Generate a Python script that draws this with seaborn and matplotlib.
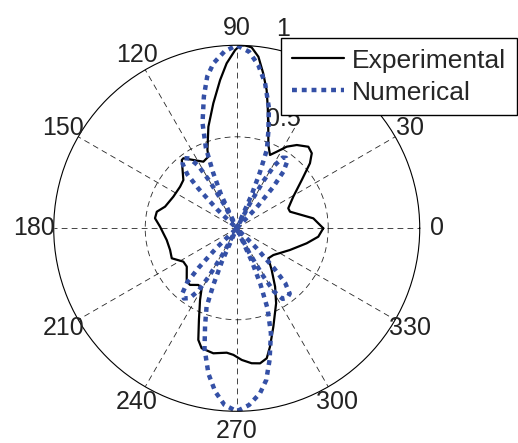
import numpy as np
import pandas as pd
import matplotlib
matplotlib.use("Agg")
import matplotlib.pyplot as plt
import seaborn as sns

# Experimental curve (angle in degrees, normalised amplitude)
exp_theta = [0, 7.4, 17.3, 21.2, 29.2, 36.6, 41.6, 45, 48.7, 54.2, 58.5, 62.4, 65.6,
             69.2, 72.2, 75.7, 77.8, 80.3, 82.8, 85.3, 87.4, 89, 90.5, 93.5, 96.4,
             100.6, 105.6, 110.5, 111.6, 116.6, 122.4, 127.3, 128.8, 137.9, 143.7,
             153.5, 163.2, 168.3, 173, 178.8, 183.9, 189.5, 198, 204.8, 212, 217.5,
             226.9, 230.5, 235.9, 239.7, 242.9, 247.6, 251, 253.7, 259.4, 265.4,
             268.5, 272.2, 276.3, 279.8, 283, 285.7, 290.4, 297.7, 303.3, 310,
             316.5, 323.9, 337.8, 347.9, 354.1, 360]
exp_r = [0.473, 0.422, 0.305, 0.302, 0.354, 0.443, 0.535, 0.580, 0.593, 0.561, 0.523,
         0.472, 0.440, 0.487, 0.564, 0.686, 0.773, 0.859, 0.945, 0.992, 1.0, 0.998,
         0.974, 0.903, 0.815, 0.695, 0.576, 0.457, 0.421, 0.407, 0.442, 0.481, 0.479,
         0.393, 0.384, 0.387, 0.409, 0.446, 0.450, 0.419, 0.402, 0.388, 0.383, 0.391,
         0.344, 0.344, 0.400, 0.401, 0.374, 0.380, 0.440, 0.542, 0.645, 0.683, 0.695,
         0.682, 0.692, 0.720, 0.742, 0.749, 0.729, 0.672, 0.574, 0.463, 0.382, 0.297,
         0.238, 0.248, 0.314, 0.391, 0.448, 0.473]

# Numerical curve
num_theta = [0, 40, 46, 48.5, 50.5, 53, 55, 57, 59, 60.5, 62, 63.5,
             64, 66, 67.5, 69, 72, 75, 79, 82.5, 86, 90, 94, 98, 101, 104, 108, 111,
             113, 115, 117,
             118, 120, 121.5, 124, 127, 130, 132.5, 134, 136, 139,
             180, 221, 224, 226, 227.5, 230, 233, 236, 238.5, 240, 242, 243,
             244, 246, 247.5, 249, 252, 255, 259, 262.5, 266, 270, 274, 278, 281,
             284, 288, 291, 293, 294.5, 296,
             297, 299, 300.5, 303, 306, 309, 311.5, 313, 315, 318,
             340, 360]
num_r = [0, 0, 0.15, 0.3, 0.4, 0.46, 0.47, 0.46, 0.4, 0.3, 0.15, 0,
         0, 0.2, 0.33, 0.46, 0.56, 0.68, 0.81, 0.9, 0.967, 1.0, 0.968, 0.911, 0.845,
         0.742, 0.605, 0.47, 0.33, 0.2, 0,
         0.15, 0.3, 0.4, 0.46, 0.48, 0.46, 0.4, 0.3, 0.15, 0,
         0, 0, 0.15, 0.3, 0.4, 0.46, 0.48, 0.46, 0.4, 0.3, 0.15, 0,
         0, 0.2, 0.33, 0.46, 0.56, 0.68, 0.81, 0.9, 0.967, 1.0, 0.968, 0.911, 0.845,
         0.742, 0.605, 0.47, 0.33, 0.2, 0,
         0.15, 0.3, 0.4, 0.46, 0.47, 0.46, 0.4, 0.3, 0.15, 0,
         0, 0]

angle_ticks = [0, 30, 60, 90, 120, 150, 180, 210, 240, 270, 300, 330]
angle_labels = ['0', '30', '60', '90', '120', '150', '180', '210', '240', '270', '300', '330']
r_ticks = [0.5, 1]
r_labels = ['0.5', '1']

sns.set_style("white")
plt.rcParams['font.family'] = ['Liberation Sans', 'DejaVu Sans']

df_exp = pd.DataFrame({'theta': np.deg2rad(exp_theta), 'r': exp_r})
df_num = pd.DataFrame({'theta': np.deg2rad(num_theta), 'r': num_r})

fig = plt.figure(figsize=(5.18, 4.43), dpi=100)
ax = fig.add_axes([0.1037, 0.0716, 0.7066, 0.8262], projection='polar')

sns.lineplot(data=df_exp, x='theta', y='r', ax=ax, sort=False, estimator=None,
             color='black', linewidth=1.6, label='Experimental')
sns.lineplot(data=df_num, x='theta', y='r', ax=ax, sort=False, estimator=None,
             color='#3450a6', linewidth=3.2, linestyle=(0, (1.1, 1.1)),
             label='Numerical')
for ln in ax.get_lines():
    ln.set_dash_capstyle('butt')

ax.set_ylim(0, 1)
ax.set_xlabel('')
ax.set_ylabel('')
ax.set_xticks(np.deg2rad(angle_ticks))
ax.set_xticklabels([])
ax.set_yticks([0.5])
ax.set_yticklabels([])
ax.grid(True, color='black', linestyle=(0, (7, 5)), linewidth=0.6, alpha=0.85)
ax.spines['polar'].set_linewidth(0.8)
ax.spines['polar'].set_color('black')

# angle labels outside the circle
for a, lab in zip(angle_ticks, angle_labels):
    if a == 60:
        continue
    rr = 1.11 if a in (180, 270) else 1.095
    ax.text(np.deg2rad(a), rr, lab, ha='center', va='center', fontsize=18,
            color='#222222')

# radial labels
ax.text(np.deg2rad(67), 0.65, r_labels[0], ha='center', va='center', fontsize=18,
        color='#222222', zorder=1)
ax.text(np.deg2rad(77), 1.12, r_labels[1], ha='center', va='center', fontsize=18,
        color='#222222')

leg = ax.legend(loc='upper right', bbox_to_anchor=(0.998, 0.914),
                bbox_transform=fig.transFigure, borderaxespad=0, fontsize=19,
                frameon=True, fancybox=False, framealpha=1, edgecolor='black',
                handlelength=2.0, handletextpad=0.3, borderpad=0.4,
                labelspacing=0.3)
leg.get_frame().set_linewidth(1.0)
leg.set_zorder(5)

fig.savefig('out.png', dpi=100)
